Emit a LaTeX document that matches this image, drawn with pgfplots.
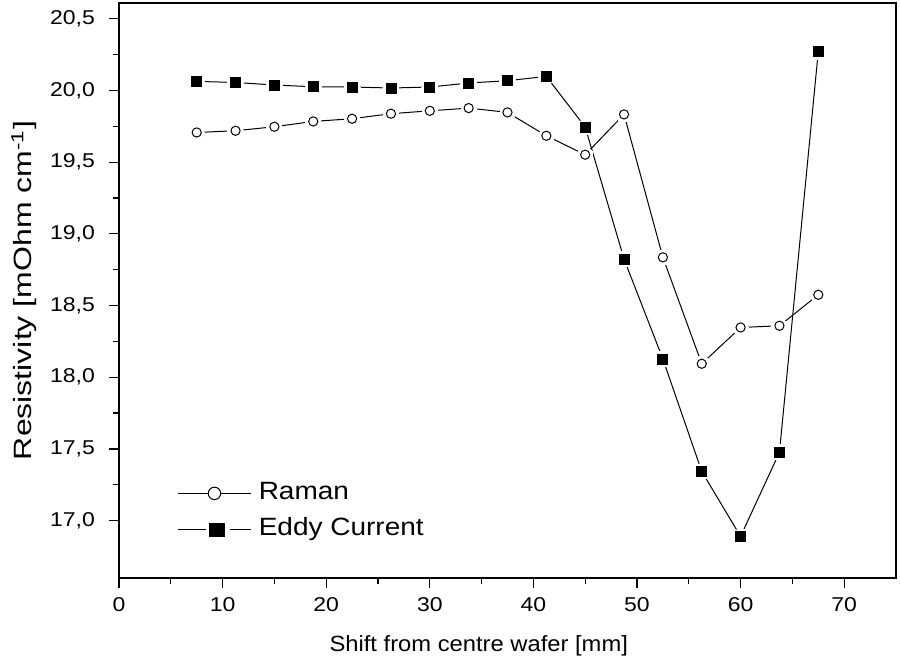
\documentclass[border=0pt]{standalone}
\usepackage{fontspec}
\setmainfont{Liberation Sans}
\newfontfamily\tickfont[FakeStretch=1.15]{Liberation Sans}
\newfontfamily\ylabfont[FakeStretch=1.28]{Liberation Sans}
\newfontfamily\xlabfont[FakeStretch=1.08]{Liberation Sans}
\newfontfamily\legfont[FakeStretch=1.12]{Liberation Sans}
\usepackage{pgfplots}
\pgfplotsset{compat=1.18}
\pgfplotstableread{
x y
7.5 19.707
11.25 19.719
15 19.747
18.75 19.784
22.5 19.803
26.25 19.838
30 19.858
33.75 19.877
37.5 19.847
41.25 19.684
45 19.552
48.75 19.833
52.5 18.836
56.25 18.094
60 18.347
63.75 18.359
67.5 18.575
}\raman
\pgfplotstableread{
x y
7.5 20.063
11.25 20.056
15 20.038
18.75 20.026
22.5 20.024
26.25 20.017
30 20.024
33.75 20.052
37.5 20.068
41.25 20.098
45 19.745
48.75 18.824
52.5 18.127
56.25 17.343
60 16.890
63.75 17.476
67.5 20.272
}\eddy
\begin{document}
\begin{tikzpicture}
\useasboundingbox (-59.5pt,-44.5pt) rectangle (390.5pt,289pt);
\begin{axis}[
  at={(0,0)}, anchor=south west,
  scale only axis, width=388.5pt, height=287.5pt,
  xmin=0, xmax=75, ymin=16.6, ymax=20.61,
  xtick={0,10,...,70},
  ytick={17,17.5,...,20.5},
  minor x tick num=1, minor y tick num=1,
  tick pos=left, tick align=outside,
  major tick length=5pt, minor tick length=3pt,
  axis line style={line width=0.7pt},
  every tick/.style={line width=0.6pt, black},
  /pgf/number format/assume math mode=true,
  yticklabel style={font=\fontsize{10}{12}\tickfont, xshift=-3.5pt, /pgf/number format/.cd, fixed, fixed zerofill, precision=1, use comma},
  xticklabel style={font=\fontsize{10}{12}\tickfont, yshift=-1pt},
  xlabel={Shift from centre wafer [mm]},
  ylabel={Resistivity [mOhm cm\textsuperscript{-1}]},
  xlabel style={font=\fontsize{11}{13}\xlabfont, at={(axis description cs:0.463,-0.128)}, anchor=base},
  ylabel style={font=\fontsize{12.5}{14}\ylabfont, at={(axis description cs:-0.112,0.5)}, anchor=base},
  legend style={draw=none, fill=none, at={(axis description cs:0.0746,0.1153)}, anchor=west,
    font=\fontsize{12.5}{14}\legfont, inner sep=0pt, row sep=6.3pt,
    nodes={inner sep=0pt, text height=9pt, text depth=3pt},
    /tikz/every odd column/.append style={column sep=3.7pt}},
  legend cell align=left,
]
\addlegendimage{legend image code/.code={%
    \draw[black, line width=0.5pt] (0pt,0pt) -- (36.5pt,0pt);
    \draw[black, line width=0.5pt, fill=white] (18.3pt,0pt) circle[radius=3.1pt];}}
\addlegendentry{Raman}
\addlegendimage{legend image code/.code={%
    \draw[black, line width=0.5pt] (0pt,0pt) -- (14.2pt,0pt);
    \fill[black] (15.8pt,-3.2pt) rectangle (23.3pt,3.2pt);
    \draw[black, line width=0.5pt] (26.3pt,0pt) -- (36.5pt,0pt);}}
\addlegendentry{Eddy Current}
% lines
\addplot[black, line width=0.5pt, forget plot] table[x=x,y=y] {\raman};
\addplot[black, line width=0.5pt, forget plot] table[x=x,y=y] {\eddy};
% halos
\addplot[white, only marks, mark=*, mark size=3.8pt, mark options={draw=white, fill=white, line width=0pt}, forget plot] table[x=x,y=y] {\raman};
\addplot[white, only marks, mark=*, mark size=4pt, mark options={draw=white, fill=white, line width=0pt}, forget plot] table[x=x,y=y] {\eddy};
% marks
\addplot[black, only marks, mark=o, mark size=2.3pt, mark options={black, fill=white, line width=0.5pt}, forget plot] table[x=x,y=y] {\raman};
\addplot[black, only marks, mark=square*, mark size=2.5pt, mark options={black, fill=black}, forget plot] table[x=x,y=y] {\eddy};
\end{axis}
\end{tikzpicture}
\end{document}
